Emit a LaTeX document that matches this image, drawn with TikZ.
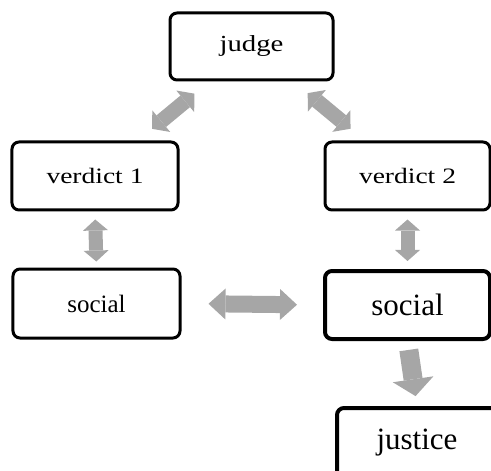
\documentclass[tikz,border=0pt]{standalone}
\usepackage{graphicx}
\usepackage{fontspec}
\setmainfont{Liberation Serif}
\usetikzlibrary{arrows.meta}
\definecolor{arrowgray}{RGB}{166,166,166}
\newcommand\widetext[2]{\scalebox{1.25}[1]{\fontsize{#1}{#1}\selectfont #2}}
\tikzset{
  box/.style={draw=black, line width=3bp, rounded corners=7bp, fill=white, inner sep=0pt,
              minimum width=166bp, minimum height=68bp},
  heavybox/.style={box, line width=4bp},
  dblarrow/.style={draw=arrowgray, line width=14bp,
     {Triangle[length=11bp,width=25bp,line width=0pt]}-{Triangle[length=11bp,width=25bp,line width=0pt]}},
  diagarrow/.style={draw=arrowgray, line width=15bp,
     {Triangle[length=12bp,width=28bp,line width=0pt]}-{Triangle[length=12bp,width=28bp,line width=0pt]}},
  horarrow/.style={draw=arrowgray, line width=17bp,
     {Triangle[length=17bp,width=31bp,line width=0pt]}-{Triangle[length=17bp,width=31bp,line width=0pt]}},
  downarrow/.style={draw=arrowgray, line width=19bp,
     -{Triangle[length=17bp,width=41bp,line width=0pt]}},
}
\begin{document}
\begin{tikzpicture}[x=1bp,y=-1bp]
\useasboundingbox (0,0) rectangle (491,471);
\node[box, minimum width=163bp, minimum height=67bp] (judge) at (251.5,46.5) {\widetext{23bp}{judge}};
\node[box] (v1) at (95,176) {\widetext{22bp}{verdict\ 1}};
\node[box, minimum width=165bp] (v2) at (407.5,176) {\widetext{22bp}{verdict\ 2}};
\node[box, minimum width=167bp, minimum height=69bp] (sL) at (96.5,303.5) {\fontsize{25bp}{28bp}\selectfont social};
\node[heavybox, minimum width=165bp, minimum height=68bp] (sR) at (407.5,305) {\fontsize{31bp}{36bp}\selectfont social};
\node[heavybox, minimum width=160bp, minimum height=70bp] (jus) at (417,443) {\fontsize{31bp}{36bp}\selectfont justice};
\draw[diagarrow, shorten <=74bp, shorten >=74bp] (v1.center) -- (judge.center);
\draw[diagarrow, shorten <=73bp, shorten >=74bp] (judge.center) -- (v2.center);
\draw[dblarrow, shorten <=8bp, shorten >=6bp] (v1.south) -- (sL.north);
\draw[dblarrow, shorten <=8bp, shorten >=8bp] (v2.south) -- (sR.north);
\draw[horarrow, shorten <=27bp, shorten >=26bp] (sL.east) -- (sR.west);
\draw[downarrow, shorten <=9bp, shorten >=10bp] (sR.south) -- (jus.north);
\end{tikzpicture}
\end{document}
